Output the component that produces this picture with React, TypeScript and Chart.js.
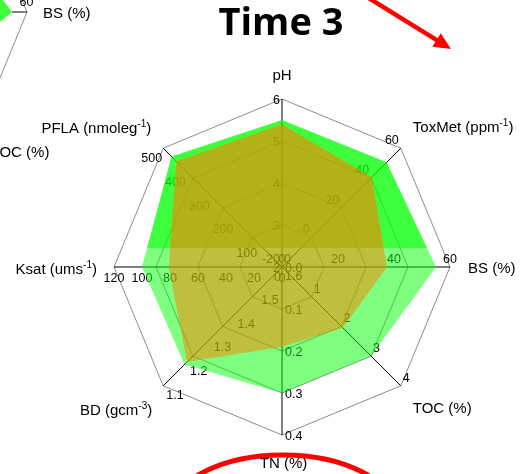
import React, { useEffect, useRef } from "react";
import { Chart, registerables } from "chart.js";

Chart.register(...registerables);

// Radar axes, clockwise from the top
const axisNames = ["pH", "ToxMet", "BS", "TOC", "TN", "BD", "Ksat", "PFLA"];
// Axis titles: [text, superscript, trailing text]
const axisTitles: [string, string, string][] = [
  ["pH", "", ""],
  ["ToxMet (ppm", "-1", ")"],
  ["BS (%)", "", ""],
  ["TOC (%)", "", ""],
  ["TN (%)", "", ""],
  ["BD (gcm", "-3", ")"],
  ["Ksat (ums", "-1", ")"],
  ["PFLA (nmoleg", "-1", ")"],
];
// Value at the centre and at the outer ring of each axis (BD runs inward)
const axisInner = [2, -20, 0, 0, 0, 1.6, 0, 0];
const axisOuter = [6, 60, 60, 4, 0.4, 1.1, 120, 500];
// Tick labels along each axis
const axisTicks = [
  [2, 3, 4, 5, 6],
  [-20, 0, 20, 40, 60],
  [0, 20, 40, 60],
  [0, 1, 2, 3, 4],
  [0, 0.1, 0.2, 0.3, 0.4],
  [1.6, 1.5, 1.4, 1.3, 1.2, 1.1],
  [0, 20, 40, 60, 80, 100, 120],
  [0, 100, 200, 300, 400, 500],
];
const tickDecimals = [0, 0, 0, 0, 1, 1, 0, 0];

// Soil properties, Time 3
const seriesGreen = [5.5, 50.5, 55, 3.0, 0.3, 1.19, 100, 465];
const seriesOlive = [5.4, 40.5, 37.5, 2.05, 0.19, 1.2, 81, 445];

const toUnit = (v: number, i: number) =>
  (v - axisInner[i]) / (axisOuter[i] - axisInner[i]);

// Tick label offsets from the tick position, per axis
const tickPlacement: { dx: number; dy: number; align: CanvasTextAlign }[] = [
  { dx: -2, dy: 4.5, align: "right" },
  { dx: -2, dy: -4, align: "right" },
  { dx: 0, dy: -4.5, align: "center" },
  { dx: 2, dy: -4, align: "left" },
  { dx: 3, dy: 5, align: "left" },
  { dx: 3, dy: 13, align: "left" },
  { dx: 0, dy: 14.5, align: "center" },
  { dx: -1, dy: 14, align: "right" },
];
// Axis title offsets from the outer vertex, per axis
const titlePlacement: { dx: number; dy: number; align: "left" | "center" | "right" }[] = [
  { dx: 0, dy: -19, align: "center" },
  { dx: 12, dy: -16.5, align: "left" },
  { dx: 18, dy: 6, align: "left" },
  { dx: 12, dy: 27, align: "left" },
  { dx: 1.5, dy: 32.5, align: "center" },
  { dx: -11, dy: 29, align: "right" },
  { dx: -17, dy: 7, align: "right" },
  { dx: -12, dy: -15, align: "right" },
];

const FONT = '"Liberation Sans", Arial, sans-serif';

function drawTitle(
  ctx: CanvasRenderingContext2D,
  parts: [string, string, string],
  x: number,
  y: number,
  align: "left" | "center" | "right"
) {
  const mainFont = `15px ${FONT}`;
  const supFont = `10px ${FONT}`;
  ctx.font = mainFont;
  const w1 = ctx.measureText(parts[0]).width;
  const w3 = ctx.measureText(parts[2]).width;
  ctx.font = supFont;
  const w2 = ctx.measureText(parts[1]).width;
  const total = w1 + w2 + w3;
  let sx = x;
  if (align === "center") sx = x - total / 2;
  if (align === "right") sx = x - total;
  ctx.textAlign = "left";
  ctx.textBaseline = "alphabetic";
  ctx.fillStyle = "#000";
  ctx.font = mainFont;
  ctx.fillText(parts[0], sx, y);
  if (parts[1]) {
    ctx.font = supFont;
    ctx.fillText(parts[1], sx + w1, y - 6);
  }
  ctx.font = mainFont;
  if (parts[2]) ctx.fillText(parts[2], sx + w1 + w2, y);
}

const axisTextPlugin = {
  id: "axisText",
  beforeDatasetsDraw(chart: any) {
    const ctx: CanvasRenderingContext2D = chart.ctx;
    const scale = chart.scales.r;
    ctx.save();
    ctx.font = `12.5px ${FONT}`;
    ctx.fillStyle = "#000";
    ctx.textBaseline = "alphabetic";
    axisTicks.forEach((ticks, i) => {
      const pl = tickPlacement[i];
      ctx.textAlign = pl.align;
      ticks.forEach((t) => {
        const p = scale.getPointPositionForValue(i, toUnit(t, i));
        ctx.fillText(t.toFixed(tickDecimals[i]), p.x + pl.dx, p.y + pl.dy);
      });
    });
    axisTitles.forEach((parts, i) => {
      const p = scale.getPointPositionForValue(i, 1);
      const pl = titlePlacement[i];
      drawTitle(ctx, parts, p.x + pl.dx, p.y + pl.dy, pl.align);
    });
    ctx.restore();
  },
  afterDraw(chart: any) {
    const ctx: CanvasRenderingContext2D = chart.ctx;
    ctx.save();

    // Heading
    ctx.fillStyle = "#000";
    ctx.font = `700 38px "Open Sans", sans-serif`;
    ctx.textAlign = "center";
    ctx.textBaseline = "alphabetic";
    ctx.fillText("Time 3", 281, 35);

    // Edge of the neighbouring panel
    ctx.fillStyle = "rgb(61,255,61)";
    ctx.beginPath();
    ctx.moveTo(0, 0);
    ctx.lineTo(3, 0);
    ctx.lineTo(12, 12);
    ctx.lineTo(0, 22);
    ctx.closePath();
    ctx.fill();
    ctx.strokeStyle = "#8c8c8c";
    ctx.lineWidth = 1;
    ctx.beginPath();
    ctx.moveTo(22, 0);
    ctx.lineTo(27, 12);
    ctx.lineTo(0, 78);
    ctx.stroke();
    ctx.strokeStyle = "#000";
    ctx.beginPath();
    ctx.moveTo(12, 12);
    ctx.lineTo(27, 12);
    ctx.stroke();
    ctx.fillStyle = "#000";
    ctx.font = `12.5px ${FONT}`;
    ctx.textAlign = "center";
    ctx.fillText("60", 26.5, 6);
    ctx.font = `15px ${FONT}`;
    ctx.textAlign = "left";
    ctx.fillText("BS (%)", 43, 18);
    ctx.fillText("TOC (%)", -9.5, 157);

    // Red callout arrow
    ctx.strokeStyle = "#ff0000";
    ctx.fillStyle = "#ff0000";
    ctx.lineWidth = 4.5;
    const tipX = 451;
    const tipY = 49;
    const dx = 84;
    const dy = 52;
    const len = Math.hypot(dx, dy);
    const ux = dx / len;
    const uy = dy / len;
    ctx.beginPath();
    ctx.moveTo(tipX - ux * 110, tipY - uy * 110);
    ctx.lineTo(tipX - ux * 12, tipY - uy * 12);
    ctx.stroke();
    const bx = tipX - ux * 17;
    const by = tipY - uy * 17;
    ctx.beginPath();
    ctx.moveTo(tipX, tipY);
    ctx.lineTo(bx - uy * 8, by + ux * 8);
    ctx.lineTo(bx + uy * 8, by - ux * 8);
    ctx.closePath();
    ctx.fill();

    // Red ring around the TN label
    ctx.lineWidth = 5;
    ctx.beginPath();
    ctx.ellipse(283, 513, 112, 58, 0, 0, Math.PI * 2);
    ctx.stroke();

    ctx.restore();
  },
};

function splitFill(
  ctx: CanvasRenderingContext2D,
  top: string,
  bottom: string
): CanvasGradient {
  const g = ctx.createLinearGradient(0, 0, 0, 474);
  const s = 248 / 474;
  g.addColorStop(0, top);
  g.addColorStop(s, top);
  g.addColorStop(s, bottom);
  g.addColorStop(1, bottom);
  return g;
}

export default function App() {
  const canvasRef = useRef<HTMLCanvasElement | null>(null);

  useEffect(() => {
    const canvas = canvasRef.current;
    if (!canvas) return;
    const ctx = canvas.getContext("2d") as CanvasRenderingContext2D;
    const greenFill = splitFill(ctx, "rgba(0,255,0,0.76)", "rgba(0,255,0,0.5)");
    const oliveFill = splitFill(ctx, "rgba(255,128,0,0.6)", "rgba(255,128,0,0.5)");

    const chart = new Chart(canvas, {
      type: "radar",
      data: {
        labels: axisNames,
        datasets: [
          {
            label: "Time 3 b",
            data: seriesOlive.map(toUnit),
            backgroundColor: oliveFill,
            borderColor: "rgba(0,0,0,0)",
            borderWidth: 0,
            pointRadius: 0,
            fill: true,
          },
          {
            label: "Time 3 a",
            data: seriesGreen.map(toUnit),
            backgroundColor: greenFill,
            borderColor: "rgba(0,0,0,0)",
            borderWidth: 0,
            pointRadius: 0,
            fill: true,
          },
        ],
      },
      options: {
        animation: false,
        responsive: false,
        devicePixelRatio: 1,
        layout: { padding: { left: 114, right: 79, top: 99, bottom: 39 } },
        plugins: {
          legend: { display: false },
          tooltip: { enabled: false },
          title: { display: false },
        },
        scales: {
          r: {
            min: 0,
            max: 1,
            startAngle: 0,
            ticks: { display: false, stepSize: 0.25 },
            pointLabels: { display: false },
            grid: { color: "#8c8c8c", lineWidth: 1 },
            angleLines: { color: "#000", lineWidth: 1 },
          },
        },
      },
      plugins: [axisTextPlugin],
    });
    return () => chart.destroy();
  }, []);

  return (
    <div
      style={{
        position: "absolute",
        left: 0,
        top: 0,
        width: 529,
        height: 474,
        background: "#fff",
        overflow: "hidden",
      }}
    >
      <canvas ref={canvasRef} width={529} height={474} style={{ display: "block" }} />
    </div>
  );
}
